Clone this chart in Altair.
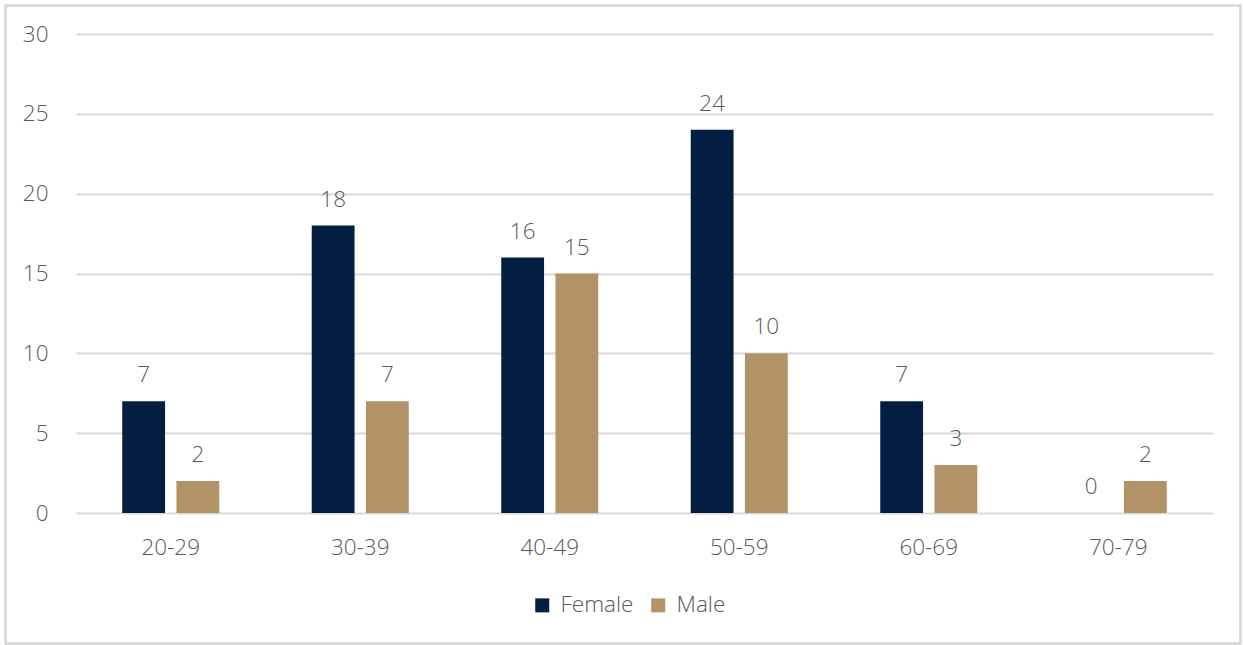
import altair as alt
import pandas as pd

ages = ["20-29", "30-39", "40-49", "50-59", "60-69", "70-79"]
female = [7, 18, 16, 24, 7, 0]
male = [2, 7, 15, 10, 3, 2]
series = ["Female", "Male"]
colors = ["#041E42", "#B29367"]

rows = []
for i, a in enumerate(ages):
    rows.append({"age": a, "sex": "Female", "count": female[i]})
    rows.append({"age": a, "sex": "Male", "count": male[i]})
df = pd.DataFrame(rows)

FONT = "Open Sans"
TXT = "#595959"
GRID = "#D9D9D9"
FS = 22.5

x = alt.X("age:N", sort=ages, title=None,
          scale=alt.Scale(paddingInner=0.488, paddingOuter=0.244),
          axis=alt.Axis(labelAngle=0, domain=False, ticks=False, labelPadding=23,
                        labelFontSize=FS, labelColor=TXT, labelFont=FONT, labelFontWeight=300))
xo = alt.XOffset("sex:N", sort=series, scale=alt.Scale(paddingInner=0.21, paddingOuter=0))
y = alt.Y("count:Q", title=None,
          scale=alt.Scale(domain=[0, 30], nice=False),
          axis=alt.Axis(values=[0, 5, 10, 15, 20, 25, 30], domain=False, ticks=False,
                        labelPadding=28, labelFontSize=FS, labelColor=TXT, labelFont=FONT,
                        labelFontWeight=300, gridColor=GRID, gridWidth=2))

bars = alt.Chart(df).mark_bar().encode(
    x=x, xOffset=xo, y=y,
    color=alt.Color("sex:N", sort=series, title=None,
                    scale=alt.Scale(domain=series, range=colors),
                    legend=alt.Legend(orient="none", legendX=455, legendY=560,
                                      direction="horizontal", symbolType="square",
                                      symbolSize=196, symbolStrokeWidth=0,
                                      labelFontSize=FS, labelColor=TXT, labelFont=FONT,
                                      labelFontWeight=300, labelOffset=7, columnPadding=13)),
)

labels = alt.Chart(df).mark_text(baseline="alphabetic", dy=-19, fontSize=FS,
                                 font=FONT, fontWeight=300, color=TXT).encode(
    x=x, xOffset=xo, y=y, text="count:Q"
)

border = alt.Chart(df).mark_rect(fill=None, stroke=GRID, strokeWidth=1.5).encode(
    x=alt.value(-70.5), x2=alt.value(1164.5), y=alt.value(-28.5), y2=alt.value(609.5)
)

chart = alt.layer(border, bars, labels).properties(
    width=1137, height=479,
    autosize=alt.AutoSizeParams(type="none"),
    padding={"left": 76, "top": 34, "right": 30, "bottom": 132},
    background="white",
).configure_view(stroke=None)

chart.save("out.html", embed_options={"renderer": "svg", "actions": False})
